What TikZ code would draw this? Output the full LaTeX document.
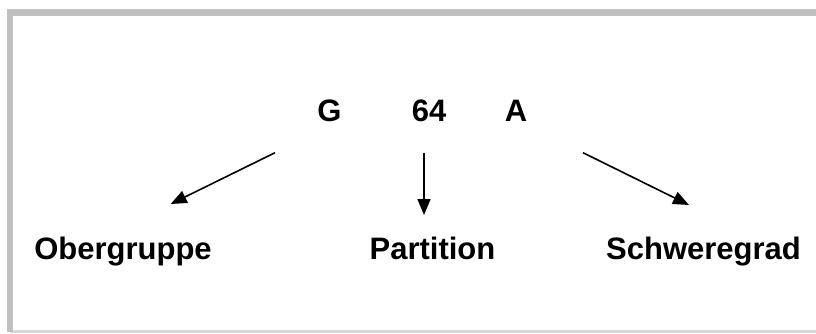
\documentclass[tikz,border=0pt]{standalone}
\usepackage{fontspec}
\setmainfont{Liberation Sans}
\usetikzlibrary{arrows.meta}
\definecolor{framegray}{HTML}{C0C0C0}
\definecolor{framelight}{HTML}{D8D8D8}
\begin{document}
\begin{tikzpicture}[x=1pt,y=1pt,
  lbl/.style={font=\fontsize{31}{31}\selectfont\bfseries, anchor=base, inner sep=0pt},
  arr/.style={line width=1.6pt, -{Triangle[length=16pt,width=13pt]}}]
\useasboundingbox (0,0) rectangle (816,333);
% frame
\draw[framelight, line width=3pt] (9.5,1.5) -- (816,1.5);
\draw[framegray, line width=6pt] (9.5,1) -- (9.5,320.5) -- (820,320.5);
% top labels
\node[lbl] (g) at (329.5,212) {G};
\node[lbl] (n) at (429,212) {64};
\node[lbl] (a) at (516,212) {A};
% bottom labels
\node[lbl] (ober) at (123,74) {Obergruppe};
\node[lbl] (part) at (432.5,74) {Partition};
\node[lbl] (schw) at (703.5,74) {Schweregrad};
% arrow endpoints
\coordinate (s1) at (275,180.3);
\coordinate (e1) at (170.7,129);
\coordinate (s2) at (424,180.3);
\coordinate (e2) at (424,118);
\coordinate (s3) at (583,180.3);
\coordinate (e3) at (689,128);
\draw[arr] (s1) -- (e1);
\draw[arr] (s2) -- (e2);
\draw[arr] (s3) -- (e3);
\end{tikzpicture}
\end{document}
